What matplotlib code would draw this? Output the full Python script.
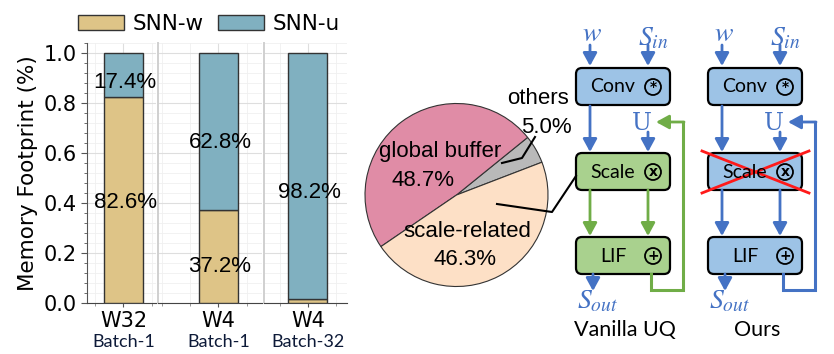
import matplotlib
matplotlib.use('Agg')
import matplotlib.pyplot as plt
from matplotlib.patches import FancyBboxPatch, Circle
from matplotlib.ticker import MultipleLocator, FormatStrFormatter

plt.rcParams['font.family'] = 'DejaVu Sans'
plt.rcParams['mathtext.fontset'] = 'stix'

# bar chart data
configs = ['W32', 'W4', 'W4']
batches = ['Batch-1', 'Batch-1', 'Batch-32']
snn_w = [0.826, 0.372, 0.018]
snn_u = [0.174, 0.628, 0.982]
w_text = ['82.6%', '37.2%', None]
u_text = ['17.4%', '62.8%', '98.2%']
w_text_y = [0.404, 0.144, None]
u_text_y = [0.884, 0.644, 0.444]

# pie data
pie_names = ['others', 'global buffer', 'scale-related']
pie_share = [5.0, 48.7, 46.3]
pie_colors = ['#b9b9b9', '#e08ca6', '#fde0c6']

c_w = '#dec487'
c_u = '#80b0c0'
W, H = 834, 354

fig = plt.figure(figsize=(W / 100, H / 100), dpi=100)

panels = [(87, 156), (158, 262), (264, 347)]
xlims = [(-0.468, 0.417), (-0.776, 0.558), (-0.564, 0.5)]
axes = []
for i in range(3):
    x0, x1 = panels[i]
    ax = fig.add_axes([x0 / W, 51 / H, (x1 - x0) / W, 260 / H])
    ax.bar(0, snn_w[i], 0.5, color=c_w, edgecolor='#333333', lw=1, label='SNN-w', zorder=3)
    ax.bar(0, snn_u[i], 0.5, bottom=snn_w[i], color=c_u, edgecolor='#333333', lw=1,
           label='SNN-u', zorder=3)
    if w_text[i]:
        ax.text(0.02, w_text_y[i], w_text[i], ha='center', va='center', fontsize=16,
                family='Liberation Sans', zorder=4)
    ax.text(0.02, u_text_y[i], u_text[i], ha='center', va='center', fontsize=16,
            family='Liberation Sans', zorder=4)
    ax.set_ylim(0, 1.04)
    ax.set_xlim(xlims[i])
    ax.set_xticks([0])
    ax.set_xticklabels([configs[i]], fontsize=15)
    ax.xaxis.set_minor_locator(MultipleLocator(0.36))
    ax.yaxis.set_major_locator(MultipleLocator(0.2))
    ax.yaxis.set_major_formatter(FormatStrFormatter('%.1f'))
    ax.yaxis.set_minor_locator(MultipleLocator(0.04))
    ax.text(0, -0.15, batches[i], transform=ax.get_xaxis_transform(), ha='center',
            va='center', fontsize=13, family='Lato', color='#0d1a38')
    ax.grid(True, which='major', color='#dedede', lw=0.8, zorder=0)
    ax.grid(True, which='minor', color='#f0f0f0', lw=0.6, zorder=0)
    ax.tick_params(axis='x', which='major', length=3, pad=3, color='#555555')
    ax.tick_params(axis='x', which='minor', length=2, color='#888888')
    ax.spines['top'].set_visible(False)
    ax.spines['right'].set_visible(False)
    ax.spines['bottom'].set_color('#444444')
    if i == 0:
        ax.spines['left'].set_color('#555555')
        ax.tick_params(axis='y', which='major', length=4, labelsize=15, color='#555555')
        ax.tick_params(axis='y', which='minor', length=2.5, color='#555555')
        ax.set_ylabel('Memory Footprint (%)', fontsize=15.5, labelpad=4)
    else:
        ax.spines['left'].set_color('#d0d0d0')
        ax.spines['left'].set_linewidth(1.4)
        ax.tick_params(axis='y', which='both', length=0, labelleft=False)
    axes.append(ax)

h, l = axes[0].get_legend_handles_labels()
fig.legend(h, l, loc='center', bbox_to_anchor=(209 / W, 1 - 24 / H), ncol=2, frameon=False,
           fontsize=15.5, handlelength=2.1, handleheight=0.75, handletextpad=0.4,
           columnspacing=0.7, borderpad=0)

# pie
axp = fig.add_axes([365 / W, (354 - 286.5) / H, 183 / W, 183 / H])
axp.pie(pie_share, colors=pie_colors, startangle=21, counterclock=True,
        wedgeprops=dict(edgecolor='#333333', linewidth=0.8))
axp.set_xlim(-1, 1)
axp.set_ylim(-1, 1)
axp.text(-0.18, 0.47, pie_names[1], ha='center', va='center', fontsize=16, family='Liberation Sans')
axp.text(-0.37, 0.16, f'{pie_share[1]}%', ha='center', va='center', fontsize=16, family='Liberation Sans')
axp.text(0.115, -0.40, pie_names[2], ha='center', va='center', fontsize=16, family='Liberation Sans')
axp.text(0.09, -0.71, f'{pie_share[2]}%', ha='center', va='center', fontsize=16, family='Liberation Sans')
axp.text(0.89, 1.06, pie_names[0], ha='center', va='center', fontsize=16, family='Liberation Sans')
axp.text(0.98, 0.74, f'{pie_share[0]}%', ha='center', va='center', fontsize=16, family='Liberation Sans')

# diagram overlay in pixel coordinates
ov = fig.add_axes([0, 0, 1, 1])
ov.set_xlim(0, W)
ov.set_ylim(H, 0)
ov.axis('off')

# leader lines from the pie
ov.plot([502, 522, 535], [163, 158, 137], color='k', lw=1.5)
ov.plot([497, 552, 576], [204, 212, 176], color='k', lw=1.5)

blue = '#4472c4'
green = '#70ad47'
fill_b = '#9dc3e6'
fill_g = '#a9d18e'


def arrow(x0, y0, x1, y1, c):
    ov.annotate('', xy=(x1, y1), xytext=(x0, y0),
                arrowprops=dict(arrowstyle='-|>,head_length=0.55,head_width=0.3', color=c,
                                lw=2, shrinkA=0, shrinkB=0, mutation_scale=14))


def block(left, top, name, sym, fill):
    ov.add_patch(FancyBboxPatch((left, top), 94, 37, boxstyle='round,pad=0,rounding_size=6',
                                fc=fill, ec='k', lw=1.6))
    ov.text(left + 37, top + 19, name, ha='center', va='center', fontsize=14, family='Lato')
    ov.add_patch(Circle((left + 77, top + 19), 8, fc='none', ec='k', lw=1.3))
    ov.text(left + 77, top + 19.5, sym, ha='center', va='center', fontsize=10,
            fontweight='bold')


def column(left, mid_fill, mid_arrow, loop_c, caption, crossed):
    a1, a2 = left + 14, left + 72
    ov.text(a1 + 2, 33, '$w$', ha='center', va='center', fontsize=20, color=blue)
    ov.text(a2 + 5, 37, '$S_{in}$', ha='center', va='center', fontsize=20, color=blue)
    arrow(a1, 45, a1, 66, blue)
    arrow(a2, 45, a2, 66, blue)
    block(left, 68, 'Conv', '*', fill_b)
    arrow(a1, 106, a1, 152, blue)
    ov.text(a2 - 6, 123, 'U', ha='center', va='center', fontsize=17, color=blue,
            family='DejaVu Serif')
    arrow(a2, 132, a2, 152, blue)
    block(left, 153, 'Scale', 'x', mid_fill)
    arrow(a1, 190, a1, 236, mid_arrow)
    arrow(a2, 190, a2, 236, mid_arrow)
    block(left, 237, 'LIF', '+', mid_fill if not crossed else fill_b)
    arrow(left + 17, 274, left + 17, 291, blue)
    ov.text(left + 22, 300, '$S_{out}$', ha='center', va='center', fontsize=20, color=blue)
    ov.plot([left + 75, left + 75, left + 107, left + 107], [274, 290, 290, 122],
            color=loop_c, lw=2.2, solid_joinstyle='miter')
    arrow(left + 108, 122, left + 80, 122, loop_c)
    ov.text(left + 49, 330, caption, ha='center', va='center', fontsize=15.5, family='Lato')
    if crossed:
        ov.plot([left - 6, left + 101], [151, 193], color='#ff1a1a', lw=2)
        ov.plot([left - 6, left + 101], [193, 151], color='#ff1a1a', lw=2)


column(576, fill_g, green, green, 'Vanilla UQ', False)
column(708, fill_b, blue, blue, 'Ours', True)

fig.savefig('out.png', dpi=100)
